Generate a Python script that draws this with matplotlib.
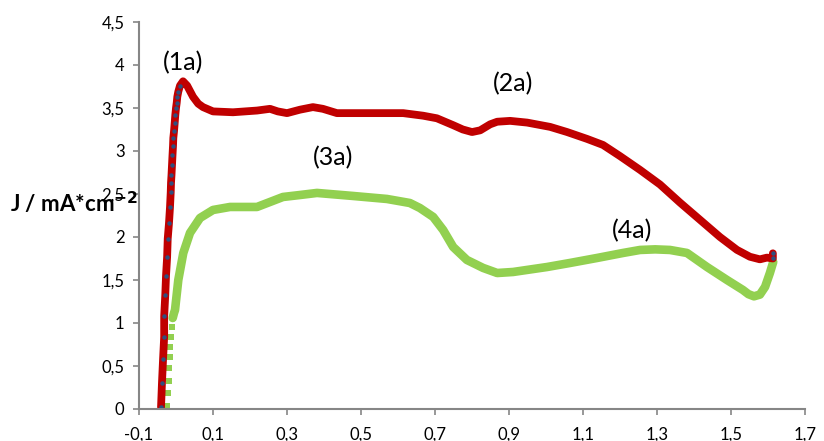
import matplotlib.pyplot as plt
from matplotlib.ticker import FuncFormatter, FixedLocator

plt.rcParams['font.family'] = ['Lato', 'DejaVu Sans']

# red curve (a): potential V vs current density J
red_v = [-0.0405, -0.038, -0.035, -0.032, -0.032, -0.029, -0.027, -0.024, -0.0224,
         -0.019, -0.0162, -0.0143, -0.0135, -0.0122, -0.0108, -0.0095, -0.0081,
         -0.0073, -0.0054, -0.0035, -0.0019, 0.0, 0.0019, 0.0035, 0.0062, 0.0108,
         0.019, 0.030, 0.046, 0.060, 0.073, 0.100, 0.154, 0.219, 0.254, 0.275,
         0.300, 0.335, 0.370, 0.397, 0.435, 0.543, 0.614, 0.668, 0.705, 0.749,
         0.775, 0.800, 0.822, 0.849, 0.868, 0.903, 0.949, 1.011, 1.057, 1.111,
         1.154, 1.200, 1.254, 1.308, 1.362, 1.416, 1.470, 1.516, 1.551, 1.578,
         1.597, 1.613, 1.613]
red_j = [0.02, 0.30, 0.58, 0.84, 1.08, 1.33, 1.55, 1.77, 1.98,
         2.16, 2.35, 2.52, 2.63, 2.72, 2.84, 2.95, 3.06,
         3.15, 3.23, 3.33, 3.42, 3.50, 3.56, 3.63, 3.69, 3.76,
         3.81, 3.76, 3.63, 3.55, 3.51, 3.46, 3.45, 3.47, 3.49, 3.46,
         3.44, 3.48, 3.51, 3.49, 3.44, 3.44, 3.44, 3.41, 3.38, 3.30,
         3.25, 3.22, 3.24, 3.31, 3.34, 3.35, 3.33, 3.28, 3.22, 3.14,
         3.07, 2.94, 2.78, 2.61, 2.40, 2.20, 2.00, 1.85, 1.77, 1.74,
         1.76, 1.75, 1.81]

# green curve (b)
green_v = [-0.0235, -0.0208, -0.0197, -0.0181, -0.0162, -0.0154, -0.0127, -0.0108,
           -0.0089, -0.0054, -0.0027, 0.0062, 0.0197, 0.0378, 0.0649, 0.100, 0.146,
           0.192, 0.219, 0.254, 0.289, 0.335, 0.381, 0.478, 0.570, 0.632, 0.659,
           0.695, 0.722, 0.749, 0.786, 0.830, 0.868, 0.911, 1.003, 1.065, 1.138,
           1.208, 1.254, 1.295, 1.335, 1.381, 1.435, 1.489, 1.532, 1.547, 1.562,
           1.578, 1.592, 1.605, 1.614]
green_j = [0.035, 0.186, 0.326, 0.477, 0.605, 0.721, 0.837, 0.953,
           1.058, 1.116, 1.151, 1.50, 1.814, 2.047, 2.221, 2.314, 2.349,
           2.349, 2.349, 2.407, 2.465, 2.488, 2.512, 2.477, 2.442, 2.395, 2.337,
           2.233, 2.081, 1.884, 1.733, 1.640, 1.581, 1.593, 1.651, 1.698, 1.756,
           1.814, 1.849, 1.856, 1.849, 1.814, 1.651, 1.50, 1.384, 1.335, 1.310,
           1.330, 1.420, 1.581, 1.709]
n_sparse = 9   # first points of the green scan are drawn as separate squares
n_rise = 26    # points of the red rise that show their markers

labels = ['(1a)', '(2a)', '(3a)', '(4a)']
label_v = [0.019, 0.911, 0.424, 1.232]
label_j = [4.03, 3.78, 2.92, 2.07]

xticks = [-0.1, 0.1, 0.3, 0.5, 0.7, 0.9, 1.1, 1.3, 1.5, 1.7]
yticks = [0, 0.5, 1, 1.5, 2, 2.5, 3, 3.5, 4, 4.5]

fig = plt.figure(figsize=(8.24, 4.41), dpi=100)
ax = fig.add_axes([0.1687, 0.0726, 0.8083, 0.8776])

ax.plot(green_v[:n_sparse], green_j[:n_sparse], 's', color='#92D050',
        markersize=5, markeredgewidth=0)
ax.plot(green_v[n_sparse - 1:], green_j[n_sparse - 1:], '-', color='#92D050',
        linewidth=6.2, solid_capstyle='round', solid_joinstyle='round')
ax.plot(red_v, red_j, '-', color='#C00000', linewidth=5.6,
        solid_capstyle='round', solid_joinstyle='round')
ax.plot(red_v[:n_rise], red_j[:n_rise], 'o', color='#2E4F7E',
        markersize=3.2, markeredgewidth=0)
ax.plot(red_v[-2:], red_j[-2:], 'o', color='#2E4F7E',
        markersize=3.2, markeredgewidth=0)

for t, v, j in zip(labels, label_v, label_j):
    ax.text(v, j, t, fontsize=18, ha='center', va='center')

ax.set_xlim(-0.1, 1.7)
ax.set_ylim(0, 4.5)
ax.xaxis.set_major_locator(FixedLocator(xticks))
ax.yaxis.set_major_locator(FixedLocator(yticks))
fmt = FuncFormatter(lambda val, pos: ('%g' % round(val, 2)).replace('.', ','))
ax.xaxis.set_major_formatter(fmt)
ax.yaxis.set_major_formatter(fmt)

for side in ['top', 'right']:
    ax.spines[side].set_visible(False)
for side in ['left', 'bottom']:
    ax.spines[side].set_color('#868686')
    ax.spines[side].set_linewidth(1.5)
ax.tick_params(axis='both', direction='out', color='#868686', width=1.2,
               length=4.5, labelsize=12)
ax.tick_params(axis='x', pad=8)
ax.tick_params(axis='y', pad=6)

fig.text(10 / 824, 1 - 203 / 441, r'J / mA*cm$^{\mathbf{-2}}$', fontsize=16,
         fontweight='bold', ha='left', va='center')

fig.savefig('out.png', dpi=100)
